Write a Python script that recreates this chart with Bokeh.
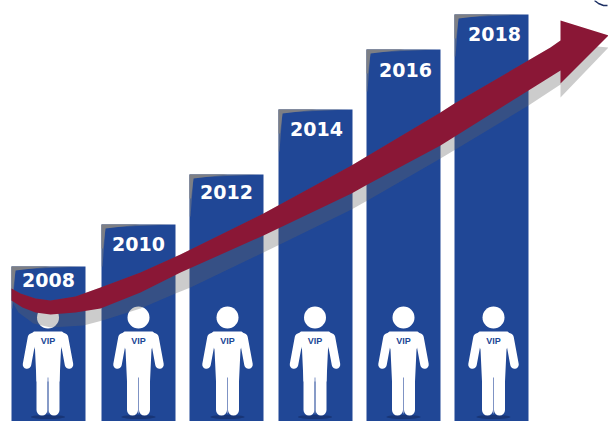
from bokeh.plotting import figure
from bokeh.models import ColumnDataSource, Range1d
from bokeh.core.properties import value
from bokeh.embed import file_html
from bokeh.resources import INLINE

years = ["2008", "2010", "2012", "2014", "2016", "2018"]
bar_centers = [48, 138, 226, 315, 403, 491]
bar_heights = [155, 197, 247, 312, 372, 407]
label_x = [48, 138, 226, 316, 405, 494]
label_drop = [13, 19, 17, 19, 20, 19]
person_x = [47.5, 138, 227, 314.5, 403, 493]

arrow_upper_x = [11, 20, 35, 50, 75, 100, 140, 180, 263, 351, 440, 454, 550, 560]
arrow_upper_h = [133, 128, 123, 121, 125, 134, 149, 167, 208, 256, 309, 318, 374, 381]
arrow_lower_x = [11, 22, 35, 50, 75, 100, 140, 180, 263, 351, 367, 440, 528, 560]
arrow_lower_h = [121, 114, 109, 107, 109, 113, 129, 149, 186, 228, 237, 276, 331, 351]
shadow_lower_x = [11, 18, 33, 50, 83, 102, 140, 175, 190, 263, 351, 367, 440, 528, 560]
shadow_lower_h = [121, 109, 98, 94, 96, 101, 113, 128, 134, 169, 212, 221, 263, 316, 337]
head_x = [560, 608, 560]
head_h = [401, 386, 338]
shadow_head_x = [560, 608, 597]
shadow_head_h = [324, 374, 375]

BAR = "#204796"
ARROW = "#8a1736"
W, H = 608, 421

p = figure(width=W, height=H, output_backend="svg", toolbar_location=None,
           x_range=Range1d(0, 608), y_range=Range1d(0, 421), min_border=0)
p.axis.visible = False
p.grid.visible = False
p.outline_line_color = None
p.background_fill_color = "white"
p.border_fill_color = "white"

bar_width = 74
src = ColumnDataSource(dict(
    x=bar_centers, top=bar_heights, year=years, lx=label_x,
    ly=[h - d for h, d in zip(bar_heights, label_drop)],
))
p.vbar(x="x", top="top", bottom=0, width=bar_width, source=src, fill_color=BAR, line_color=None)

# grey bevel on each bar's upper left corner
for cx, h in zip(bar_centers, bar_heights):
    l = cx - bar_width / 2
    p.patch([l, l + 70, l + 4, l + 1, l], [h, h, h - 3, h - 42, h - 42],
            fill_color="#7d7f85", fill_alpha=0.55, line_color=None)
    p.patch([l, l + 38, l + 4, l + 1.5, l], [h, h, h - 4, h - 24, h - 24],
            fill_color="#7d7f85", line_color=None)

# people
for cx in person_x:
    p.ellipse([cx], [4.5], width=34, height=4, fill_color="#12265c", fill_alpha=0.55, line_color=None)
    p.circle([cx], [104], radius=11, fill_color="white", line_color=None)
    p.patch([cx - 14, cx + 14, cx + 18, cx + 13, cx + 11.5, cx - 11.5, cx - 13, cx - 18],
            [90, 90, 87, 72, 40, 40, 72, 87], fill_color="white", line_color=None)
    for s in (-1, 1):
        p.line([cx + s * 16, cx + s * 21], [84, 57], line_width=8.5, line_cap="round", line_color="white")
        p.line([cx + s * 6, cx + s * 6], [52, 11.5], line_width=11, line_cap="round", line_color="white")
    p.line([cx, cx], [44, 8], line_width=1, line_color="#7f93c4")
    p.text([cx], [81], text=["VIP"], text_align="center", text_baseline="middle",
           text_font=value("Liberation Sans"), text_font_style="bold",
           text_font_size="9px", text_color=BAR)

# year labels
p.text(x="lx", y="ly", text="year", source=src, text_align="center", text_baseline="middle",
       text_font=value("DejaVu Sans"), text_font_style="bold",
       text_font_size="19px", text_color="white")

# arrow shadow, then arrow
p.patch(shadow_lower_x + shadow_head_x + arrow_upper_x[::-1],
        shadow_lower_h + shadow_head_h + arrow_upper_h[::-1],
        fill_color="#646464", fill_alpha=0.33, line_color=None)
p.patch(arrow_upper_x + head_x + arrow_lower_x[::-1],
        arrow_upper_h + head_h + arrow_lower_h[::-1],
        fill_color=ARROW, line_color=None)

# small dark mark at the top right corner
p.line([594, 598, 603, 607], [421, 418, 416, 416], line_width=1.5, line_color="#1c2f63")

open("out.html", "w").write(file_html(p, INLINE))
